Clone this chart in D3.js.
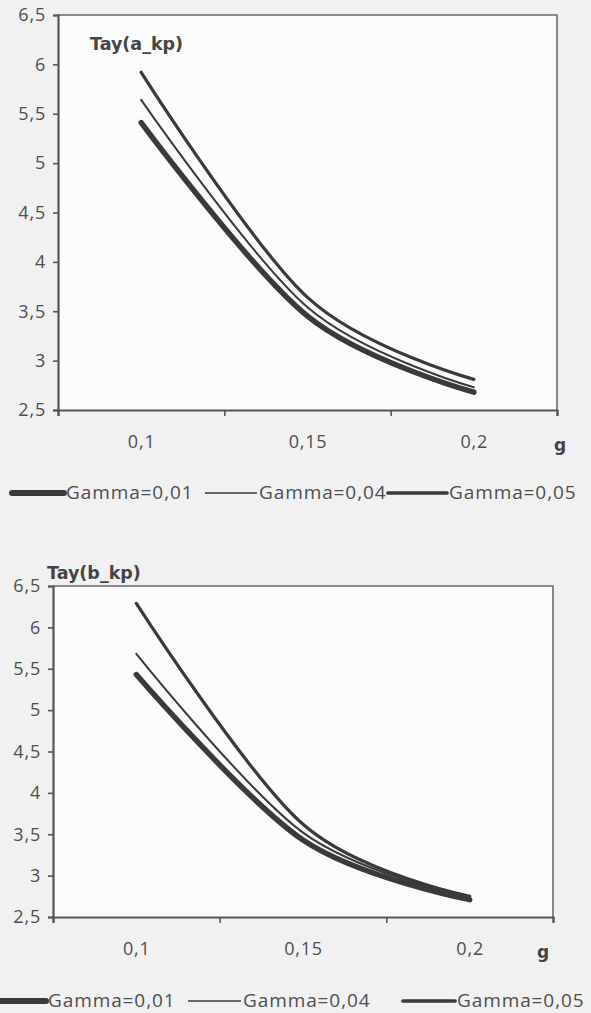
<!DOCTYPE html>
<html>
<meta charset="utf-8">
<script src="https://d3js.org/d3.v7.min.js"></script>
<style>
  body { margin: 0; background: #f1f1f1; }
  svg { display: block; }
  .tick text, .lbl { font-family: "Open Sans", sans-serif; fill: #4d4d4d; }
</style>
<body>
<script>

// g values (categories) and tick values
var gValues = [0.1, 0.15, 0.2];
var xTickMarks = [0.075, 0.125, 0.175, 0.225];
var yTicks = [2.5, 3, 3.5, 4, 4.5, 5, 5.5, 6, 6.5];
var seriesNames = ["Gamma=0,01", "Gamma=0,04", "Gamma=0,05"];

// Tay(a_kp)
var tauA_g001 = [5.41, 3.45, 2.68];
var tauA_g004 = [5.64, 3.54, 2.73];
var tauA_g005 = [5.92, 3.64, 2.81];

// Tay(b_kp)
var tauB_g001 = [5.43, 3.43, 2.71];
var tauB_g004 = [5.68, 3.52, 2.73];
var tauB_g005 = [6.29, 3.62, 2.75];

var W = 591, H = 1013;
var lineW = [5.5, 2, 3.2];
var ink = "#3a3a3a", axisCol = "#555";

var commaFmt = d3.formatLocale({decimal: ",", thousands: " ", grouping: [3], currency: ["", ""]}).format("~g");

var svg = d3.select("body").append("svg")
  .attr("width", W)
  .attr("height", H);

function drawChart(c) {
  var x = d3.scaleLinear().domain([0.075, 0.225]).range([c.left, c.right]);
  var y = d3.scaleLinear().domain([2.5, 6.5]).range([c.bottom, c.top]);
  var g = svg.append("g");

  g.append("rect")
    .attr("x", c.left).attr("y", c.top)
    .attr("width", c.right - c.left).attr("height", c.bottom - c.top)
    .attr("fill", "#fbfbfb");

  // top and right border of plot area
  g.append("path")
    .attr("d", "M" + c.left + "," + c.top + "H" + c.right + "V" + c.bottom)
    .attr("fill", "none").attr("stroke", "#6a6a6a").attr("stroke-width", 1.6);

  // y axis
  var yAx = g.append("g")
    .attr("transform", "translate(" + c.left + ",0)")
    .call(d3.axisLeft(y).tickValues(yTicks).tickSize(5).tickPadding(7).tickFormat(commaFmt));
  yAx.selectAll("text").style("font-size", "18px").style("letter-spacing", "0.8px");

  // x axis tick marks
  var xAx = g.append("g")
    .attr("transform", "translate(0," + c.bottom + ")")
    .call(d3.axisBottom(x).tickValues(xTickMarks).tickSize(6).tickFormat(""));
  // x labels, centred in each category
  var xLab = g.append("g")
    .attr("transform", "translate(0," + c.bottom + ")")
    .call(d3.axisBottom(x).tickValues(gValues).tickSize(0).tickPadding(25).tickFormat(commaFmt));
  xLab.select(".domain").remove();
  xLab.selectAll("text").style("font-size", "18px").style("letter-spacing", "0.8px");

  [yAx, xAx].forEach(function(a) {
    a.select(".domain").attr("stroke", axisCol).attr("stroke-width", 2.2);
    a.selectAll(".tick line").attr("stroke", axisCol).attr("stroke-width", 1.6);
  });

  var line = d3.line()
    .x(function(d, i) { return x(gValues[i]); })
    .y(function(d) { return y(d); })
    .curve(d3.curveCardinal.tension(0));

  c.series.forEach(function(s, k) {
    g.append("path")
      .datum(s)
      .attr("d", line)
      .attr("fill", "none")
      .attr("stroke", ink)
      .attr("stroke-width", lineW[k])
      .attr("stroke-linecap", "round");
  });

  g.append("text")
    .attr("x", c.titleX).attr("y", c.titleY)
    .attr("font-family", "DejaVu Sans, sans-serif")
    .attr("font-weight", "bold").attr("font-size", 17.5)
    .attr("fill", "#444")
    .text(c.title);

  g.append("text")
    .attr("x", c.gX).attr("y", c.gY)
    .attr("font-family", "DejaVu Sans, sans-serif")
    .attr("font-weight", "bold").attr("font-size", 17)
    .attr("text-anchor", "middle")
    .attr("fill", "#444")
    .text("g");

  // legend
  seriesNames.forEach(function(n, k) {
    var L = c.legend[k];
    g.append("line")
      .attr("x1", L[0]).attr("x2", L[1])
      .attr("y1", c.legY - 6).attr("y2", c.legY - 6)
      .attr("stroke", ink)
      .attr("stroke-width", lineW[k] + (k == 1 ? -0.5 : 0.5))
      .attr("stroke-linecap", k == 1 ? "butt" : "round");
    g.append("text")
      .attr("class", "lbl")
      .attr("x", L[1] + 2).attr("y", c.legY)
      .attr("font-size", 19)
      .attr("letter-spacing", "0.9px")
      .text(n);
  });
}

drawChart({
  left: 58, right: 557, top: 15, bottom: 410,
  series: [tauA_g001, tauA_g004, tauA_g005],
  title: "Tay(a_kp)", titleX: 90, titleY: 50,
  gX: 560, gY: 451,
  legY: 499, legend: [[12, 64], [205, 257], [388, 447]]
});

drawChart({
  left: 53, right: 553, top: 586, bottom: 917,
  series: [tauB_g001, tauB_g004, tauB_g005],
  title: "Tay(b_kp)", titleX: 47, titleY: 579,
  gX: 543, gY: 958,
  legY: 1007, legend: [[0, 46], [188, 241], [403, 455]]
});

</script>
</body>
</html>
